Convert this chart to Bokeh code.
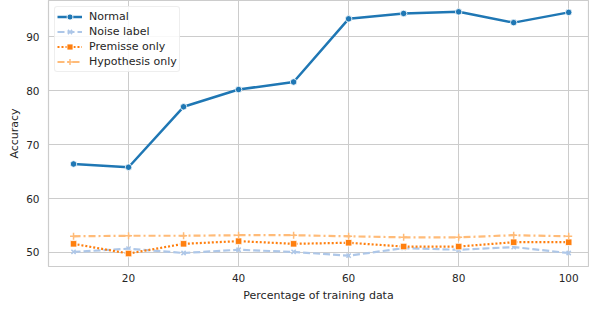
from bokeh.plotting import figure
from bokeh.models import Range1d, Legend, LegendItem, FixedTicker
from bokeh.embed import file_html
from bokeh.resources import INLINE

pct = [10, 20, 30, 40, 50, 60, 70, 80, 90, 100]
normal = [66.4, 65.8, 77.0, 80.2, 81.6, 93.3, 94.3, 94.6, 92.6, 94.5]
noise = [50.1, 50.7, 49.9, 50.5, 50.1, 49.4, 50.8, 50.5, 51.0, 49.9]
premise = [51.6, 49.8, 51.6, 52.1, 51.6, 51.8, 51.1, 51.1, 51.9, 51.9]
hypothesis = [53.0, 53.1, 53.1, 53.2, 53.2, 53.0, 52.8, 52.8, 53.2, 53.0]
x_ticks = [20, 40, 60, 80, 100]
y_ticks = [50, 60, 70, 80, 90]

FONT = "DejaVu Sans"
GRID = "#cccccc"
TXT = "#262626"

p = figure(width=575, height=304, output_backend="svg", toolbar_location=None,
           x_range=Range1d(5.45, 103.6), y_range=Range1d(47.4, 96.7),
           min_border_left=0, min_border_right=1, min_border_top=0, min_border_bottom=38)
p.frame_width = 540
p.frame_height = 266
p.styles = {"margin-left": "5px"}

p.background_fill_color = "white"
p.outline_line_color = GRID
p.outline_line_width = 1.2
p.xgrid.grid_line_color = GRID
p.ygrid.grid_line_color = GRID
p.xgrid.grid_line_width = 1
p.ygrid.grid_line_width = 1

for ax in (p.xaxis[0], p.yaxis[0]):
    ax.axis_line_color = None
    ax.major_tick_line_color = None
    ax.minor_tick_line_color = None
    ax.major_tick_out = 0
    ax.major_tick_in = 0
    ax.minor_tick_out = 0
    ax.minor_tick_in = 0
    ax.major_label_text_font = FONT
    ax.major_label_text_font_size = "10.5px"
    ax.major_label_text_color = TXT
    ax.axis_label_text_font = FONT
    ax.axis_label_text_font_size = "11px"
    ax.axis_label_text_color = TXT
    ax.axis_label_text_font_style = "normal"
p.xaxis.ticker = FixedTicker(ticks=x_ticks)
p.yaxis.ticker = FixedTicker(ticks=y_ticks)
p.xaxis.axis_label = "Percentage of training data"
p.yaxis.axis_label = "Accuracy"
p.xaxis.major_label_standoff = 7
p.yaxis.major_label_standoff = 9
p.xaxis.axis_label_standoff = 4
p.yaxis.axis_label_standoff = 2

items = []
l1 = p.line(pct, normal, line_color="#1f77b4", line_width=2.5)
m1 = p.scatter(pct, normal, marker="circle", size=6.5, fill_color="#1f77b4",
               line_color="white", line_width=0.8)
items.append(LegendItem(label="Normal", renderers=[l1, m1]))

l2 = p.line(pct, noise, line_color="#aec7e8", line_width=2.2, line_dash="7 3")
m2 = p.scatter(pct, noise, marker="x", size=6, line_color="#aec7e8", line_width=1.5)
items.append(LegendItem(label="Noise label", renderers=[l2, m2]))

l3 = p.line(pct, premise, line_color="#ff7f0e", line_width=2.2, line_dash="2 2")
m3 = p.scatter(pct, premise, marker="square", size=6.5, fill_color="#ff7f0e",
               line_color="white", line_width=0.8)
items.append(LegendItem(label="Premisse only", renderers=[l3, m3]))

l4 = p.line(pct, hypothesis, line_color="#ffbb78", line_width=2.2, line_dash="7 3 2 3")
m4 = p.scatter(pct, hypothesis, marker="cross", size=7, line_color="#ffbb78", line_width=1.5)
items.append(LegendItem(label="Hypothesis only", renderers=[l4, m4]))

legend = Legend(items=items, location="top_left")
legend.margin = 6
legend.padding = 2
legend.spacing = 0
legend.glyph_width = 25
legend.glyph_height = 15
legend.label_height = 15
legend.label_standoff = 7
legend.label_text_font = FONT
legend.label_text_font_size = "11px"
legend.label_text_color = TXT
legend.border_line_color = "#dddddd"
legend.border_line_width = 1
legend.border_radius = 3
legend.background_fill_alpha = 0.85
p.add_layout(legend)

open("out.html", "w").write(file_html(p, INLINE))
